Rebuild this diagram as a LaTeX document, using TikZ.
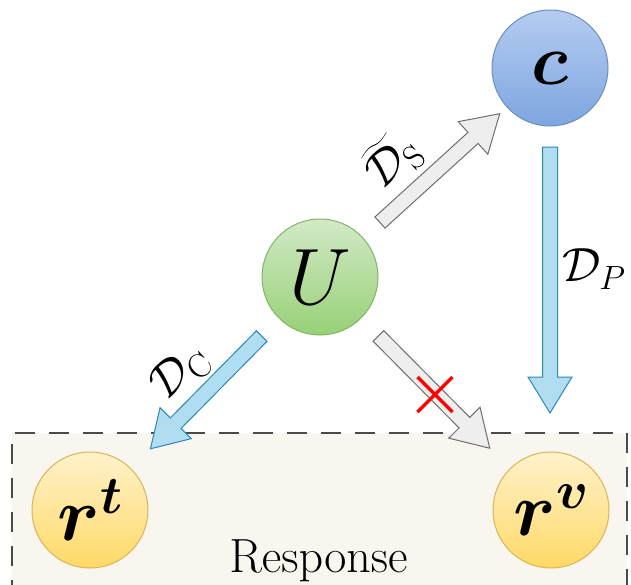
\RequirePackage{fix-cm}
\documentclass[tikz,border=0pt]{standalone}
\usepackage{amsmath,bm}
\usetikzlibrary{calc}

\definecolor{blueTop}{HTML}{B4CCF0}
\definecolor{blueBot}{HTML}{7EA6E0}
\definecolor{blueLine}{HTML}{6C8EBF}
\definecolor{greenTop}{HTML}{D2EAC6}
\definecolor{greenBot}{HTML}{97D077}
\definecolor{greenLine}{HTML}{82B366}
\definecolor{yelTop}{HTML}{FFF2CC}
\definecolor{yelBot}{HTML}{FFD966}
\definecolor{yelLine}{HTML}{D6B656}
\definecolor{skyFill}{HTML}{B1DDF0}
\definecolor{skyLine}{HTML}{2A89B5}
\definecolor{greyFill}{HTML}{EEEEEE}
\definecolor{greyLine}{HTML}{6E6E6E}
\definecolor{respFill}{HTML}{F8F6EE}
\definecolor{respLine}{HTML}{4A4A4A}

% shaft half width, head half width, head length
\def\sw{7.5pt}
\def\hw{22pt}
\def\hl{36pt}
% block arrow from #2 to #3
\newcommand{\blockarrow}[3]{%
  \draw[#1] ($(#2)!\sw!90:(#3)$)
    -- ($($(#3)!\hl!(#2)$)!\sw!90:(#3)$)
    -- ($($(#3)!\hl!(#2)$)!\hw!90:(#3)$)
    -- (#3)
    -- ($($(#3)!\hl!(#2)$)!\hw!-90:(#3)$)
    -- ($($(#3)!\hl!(#2)$)!\sw!-90:(#3)$)
    -- ($(#2)!\sw!-90:(#3)$) -- cycle;}

\tikzset{
  ball/.style={circle, minimum size=116pt, inner sep=0pt, line width=1pt},
  blueball/.style={ball, draw=blueLine, top color=blueTop, bottom color=blueBot},
  greenball/.style={ball, draw=greenLine, top color=greenTop, bottom color=greenBot},
  yellowball/.style={ball, draw=yelLine, top color=yelTop, bottom color=yelBot},
  skyarrow/.style={fill=skyFill, draw=skyLine, line width=1pt, line join=miter},
  greyarrow/.style={fill=greyFill, draw=greyLine, line width=1pt, line join=miter},
  dlabel/.style={inner sep=0pt, font=\fontsize{48}{52}\selectfont},
}

\begin{document}
\begin{tikzpicture}[x=1pt, y=-1pt]
  \useasboundingbox (0,0) rectangle (631,584);
  \clip (0,0) rectangle (631,584);

  % response area
  \fill[respFill] (12,433) rectangle (627,600);
  \draw[respLine, line width=1.6pt, dash pattern=on 20pt off 14pt]
    (12,600) -- (12,433) -- (627,433) -- (627,600);
  \node[anchor=base, inner sep=0pt, font=\fontsize{48}{52}\selectfont]
    (resp) at (318.5,572) {$\mathrm{Response}$};

  % variables
  \node[blueball] (c) at (550,68) {\fontsize{72}{76}\selectfont$\bm{c}$};
  \node[greenball] (U) at (320,277) {\fontsize{80}{84}\selectfont$U$};
  \node[yellowball] (rt) at (90,510) {\fontsize{76}{80}\selectfont$\bm{r}^{\bm{t}}$};
  \node[yellowball] (rv) at (551,510) {\fontsize{76}{80}\selectfont$\bm{r}^{\bm{v}}$};

  % arrow end points
  \coordinate (ucA) at ($(U)!81pt!(c)$);
  \coordinate (ucB) at ($(c)!68pt!(U)$);
  \coordinate (cpA) at ($(c)+(0,79)$);
  \coordinate (cpB) at ($(c |- rv)+(0,-97)$);
  \coordinate (utA) at ($(U)!83pt!(rt)$);
  \coordinate (utB) at ($(rt)!86pt!(U)$);
  \coordinate (uvA) at ($(U)!83pt!(rv)$);
  \coordinate (uvB) at ($(rv)!87pt!(U)$);

  \blockarrow{greyarrow}{ucA}{ucB}
  \blockarrow{skyarrow}{cpA}{cpB}
  \blockarrow{skyarrow}{utA}{utB}
  \blockarrow{greyarrow}{uvA}{uvB}

  % blocked path mark
  \coordinate (cross) at (435,394.5);
  \draw[red, line width=3.5pt]
    ($(cross)+(-17.5,-17.5)$) -- ($(cross)+(17.5,17.5)$)
    ($(cross)+(17.5,-17.5)$) -- ($(cross)+(-17.5,17.5)$);

  % labels
  \node[dlabel, rotate=42] (ls) at (392,160) {$\widetilde{\mathcal{D}}_{\mathrm{S}}$};
  \node[dlabel, rotate=42] (lc) at (180,372) {$\mathcal{D}_{\mathrm{C}}$};
  \node[dlabel] (lp) at (594,269) {$\mathcal{D}_{P}$};
\end{tikzpicture}
\end{document}
